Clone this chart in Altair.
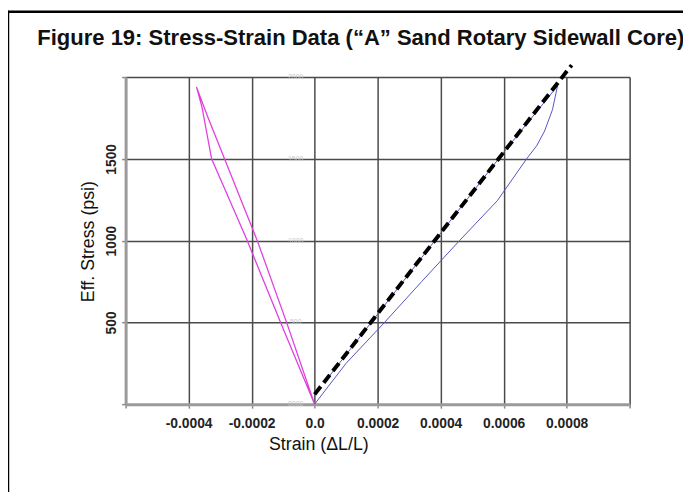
import altair as alt
import pandas as pd

# ---- data ----
pink_strain = [0, -0.000089, -0.000182, -0.000286, -0.00034, -0.000375,
               -0.000358, -0.000327, -0.000214, -0.000108, 0]
pink_stress = [0, 500, 1000, 1500, 1760, 1940, 1820, 1500, 1000, 500, 0]

blue_strain = [0, 0.0001, 0.000222, 0.00034, 0.00046, 0.00058, 0.000673,
               0.000705, 0.00073, 0.000755, 0.000771, 0.0006, 0.0004, 0.0002, 0.00003]
blue_stress = [0, 250, 500, 750, 1000, 1244, 1500, 1580, 1670, 1800, 1945,
               1540, 1045, 550, 130]

dash_strain = [0, 0.000816]
dash_stress = [60, 2073]

x_ticks = [-0.0006, -0.0004, -0.0002, 0.0, 0.0002, 0.0004, 0.0006, 0.0008, 0.001]
y_ticks = [0, 500, 1000, 1500, 2000]

faint_stress = [2000, 1500, 1000, 500, 0]
faint_text = ["2000", "1500", "1000", "500", "0000"]

title_text = "Figure 19: Stress-Strain Data (“A” Sand Rotary Sidewall Core)"

FONT = "Liberation Sans, Arial, Helvetica, sans-serif"

pink = pd.DataFrame({"strain": pink_strain, "stress": pink_stress,
                     "i": range(len(pink_strain))})
blue = pd.DataFrame({"strain": blue_strain, "stress": blue_stress, "i": range(len(blue_strain))})
dash = pd.DataFrame({"strain": dash_strain, "stress": dash_stress, "i": range(len(dash_strain))})
faint = pd.DataFrame({"strain": [-0.00006] * len(faint_stress), "stress": faint_stress,
                      "t": faint_text})

xscale = alt.Scale(domain=[-0.0006, 0.001], nice=False, zero=False)
yscale = alt.Scale(domain=[0, 2000], nice=False)

xaxis = alt.Axis(
    values=x_ticks,
    labelExpr="datum.value == 0 ? '0.0' : ((datum.value < -0.00055 || datum.value > 0.00095) ? '' : replace(format(datum.value, '.4f'), '\u2212', '-'))",
    title="Strain (ΔL/L)",
    titleX=195, titleY=46, titleAlign="center", titleBaseline="alphabetic",
    titleFont=FONT, titleFontSize=18, titleFontWeight="normal", titleColor="#111",
    labelFont=FONT, labelFontSize=14, labelFontWeight="bold", labelColor="#222",
    labelPadding=9, tickSize=4, tickColor="#888", tickWidth=1.5,
    domainColor="#9a9a9a", domainWidth=3,
    grid=True, gridColor="#4a4a4a", gridWidth=1.5,
)
yaxis = alt.Axis(
    values=y_ticks,
    labelExpr="(datum.value == 0 || datum.value == 2000) ? '' : datum.value",
    labelAngle=-90,
    title="Eff. Stress (psi)",
    titleX=-37, titleY=166, titleAngle=-90, titleAlign="center", titleBaseline="middle",
    titleFont=FONT, titleFontSize=18, titleFontWeight="normal", titleColor="#111",
    labelFont=FONT, labelFontSize=14, labelFontWeight="bold", labelColor="#222",
    labelPadding=3, tickSize=4, tickColor="#888", tickWidth=1.5,
    domainColor="#9a9a9a", domainWidth=3,
    grid=True, gridColor="#4a4a4a", gridWidth=1.5,
)

X = alt.X("strain:Q", scale=xscale, axis=xaxis)
Y = alt.Y("stress:Q", scale=yscale, axis=yaxis)
Xn = alt.X("strain:Q", scale=xscale)
Yn = alt.Y("stress:Q", scale=yscale)

faint_layer = alt.Chart(faint).mark_text(font=FONT, fontSize=7, color="#c8c8c8",
                                         align="center", baseline="middle").encode(
    x=X, y=Y, text="t:N")

pink_layer = alt.Chart(pink).mark_line(color="#e040e0", strokeWidth=1.3).encode(
    x=Xn, y=Yn, order="i:Q")
blue_layer = alt.Chart(blue).mark_line(color="#5555c0", strokeWidth=1).encode(
    x=Xn, y=Yn, order="i:Q")
dash_layer = alt.Chart(dash).mark_line(color="#000000", strokeWidth=4,
                                       strokeDash=[10, 5]).encode(
    x=Xn, y=Yn, order="i:Q")

one = pd.DataFrame({"t": [title_text]})
title_layer = alt.Chart(one).mark_text(font=FONT, fontSize=22.3, fontWeight="bold",
                                       color="#111", align="center",
                                       baseline="alphabetic").encode(
    x=alt.value(238), y=alt.value(-32), text="t:N")
border_top = alt.Chart(one).mark_rule(color="#000", strokeWidth=2.5).encode(
    x=alt.value(-120), x2=alt.value(570), y=alt.value(-66))
border_left = alt.Chart(one).mark_rule(color="#000", strokeWidth=2.5).encode(
    x=alt.value(-119), y=alt.value(-67), y2=alt.value(420))

chart = alt.layer(
    faint_layer, pink_layer, blue_layer, dash_layer, title_layer, border_top, border_left
).properties(
    width=510, height=331,
    autosize=alt.AutoSizeParams(type="none"),
    padding={"left": 119, "top": 67, "right": 54, "bottom": 86},
).configure_view(stroke="#9a9a9a", strokeWidth=2).configure(background="white")

chart.save("out.html", embed_options={"renderer": "svg", "actions": False})
